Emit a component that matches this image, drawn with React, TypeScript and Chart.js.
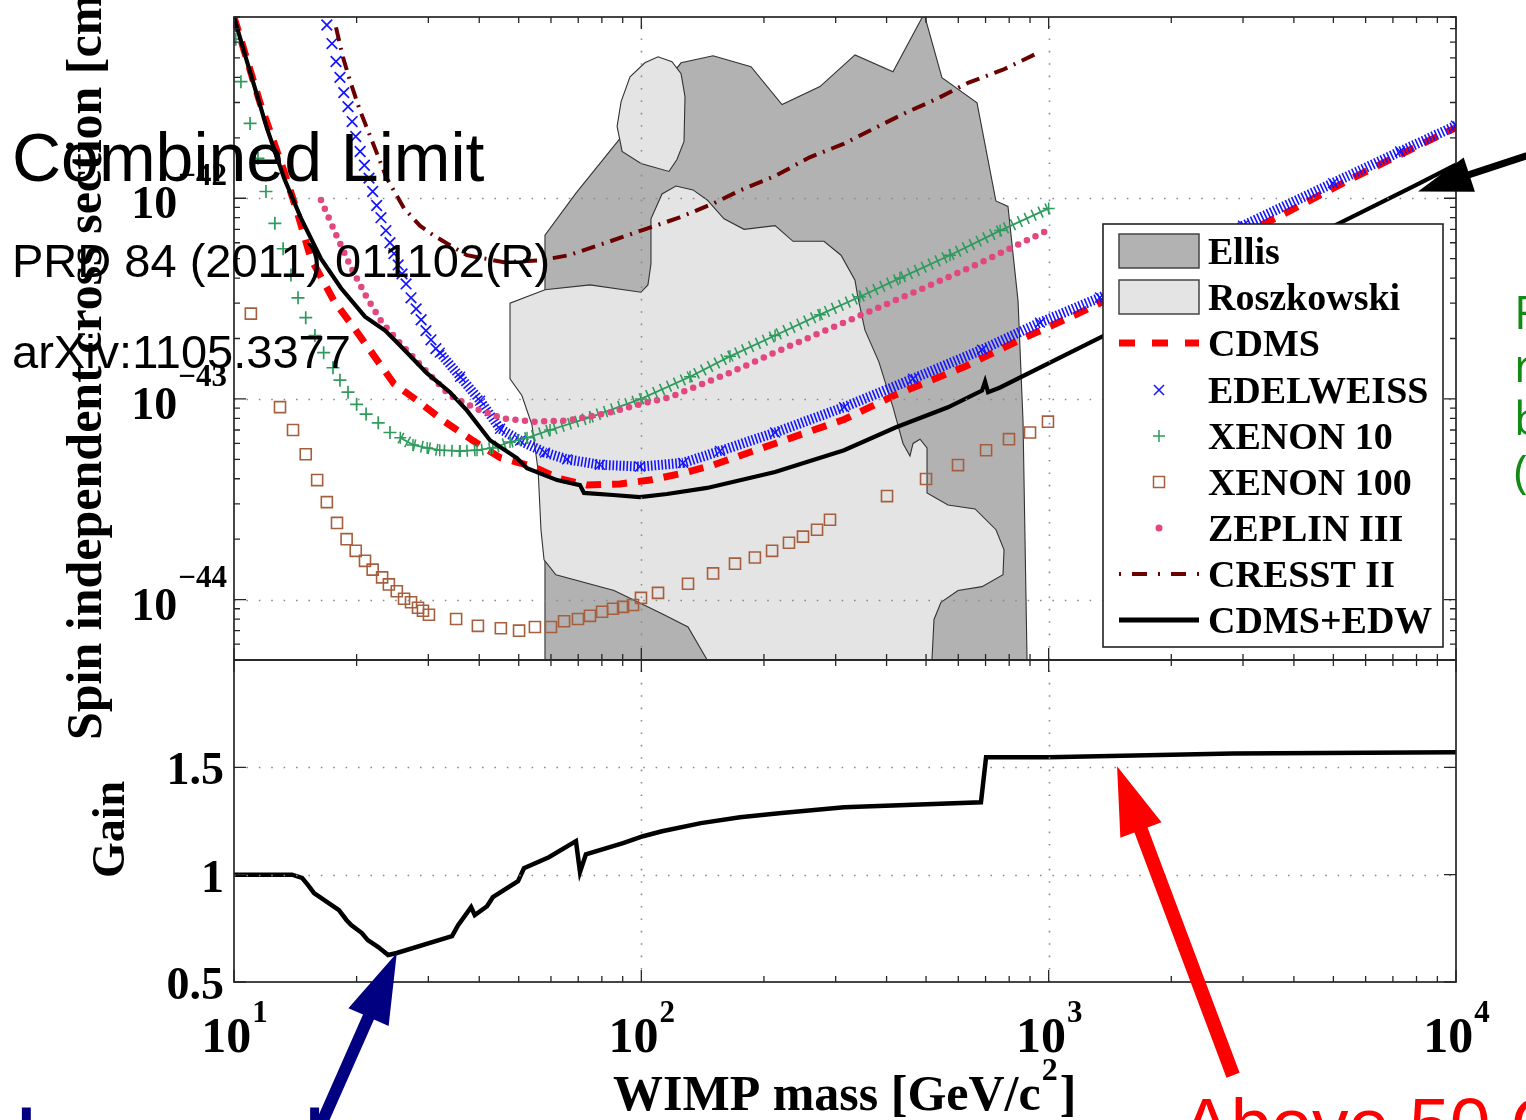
import React, { useEffect, useRef } from 'react';
import { Chart, registerables } from 'chart.js';

Chart.register(...registerables);

const W = 1526;
const H = 1120;
const SERIF = '"Liberation Serif","Times New Roman",serif';
const SANS = '"Liberation Sans",Arial,sans-serif';

// ---------------- data (x: WIMP mass GeV/c^2, y: cross section cm^2) ----------------
const ellisMass = [58.0, 58.0, 69.1, 86.2, 125.2, 150, 185.9, 221.5, 274.5, 334.6, 414.8, 494.5, 547, 667, 742, 794.6, 841, 865, 885];
const ellisSigma = [5e-45, 6.55e-43, 1.06e-42, 1.85e-42, 4.73e-42, 5.13e-42, 4.52e-42, 2.93e-42, 3.6e-42, 5.18e-42, 4.27e-42, 8.3e-42, 3.99e-42, 2.99e-42, 9.7e-43, 9.1e-43, 3.08e-43, 7.8e-44, 5e-45];

const roszMass = [145.1, 130.2, 112.4, 85.7, 61.7, 57.7, 56.7, 55.8, 53.9, 50.9, 47.6, 47.6, 58.0, 74.8, 99.8, 103.8, 105.6, 105.6, 112.4, 121.6, 133.9, 145.1, 159.6, 178.7, 213, 235.7, 280.8, 309.2, 334.6, 340.3, 354, 383, 414.8, 438.9, 456.6, 464.5, 483.3, 502.8, 502.8, 566, 659.6, 742.5, 777, 772.5, 686, 599, 544, 523, 517];
const roszSigma = [5e-45, 7.3e-45, 8.5e-45, 1.11e-44, 1.33e-44, 1.58e-44, 2.23e-44, 4.4e-44, 7.4e-44, 1.04e-43, 1.26e-43, 3.0e-43, 3.5e-43, 3.7e-43, 3.4e-43, 3.7e-43, 4.7e-43, 7.9e-43, 1.05e-42, 1.15e-42, 1.10e-42, 9.8e-43, 7.9e-43, 7.0e-43, 7.3e-43, 6.1e-43, 6.1e-43, 5.2e-43, 3.9e-43, 3.2e-43, 2.2e-43, 1.53e-43, 9.1e-44, 6.0e-44, 5.2e-44, 6.0e-44, 6.3e-44, 5.7e-44, 3.4e-44, 2.96e-44, 2.83e-44, 2.23e-44, 1.77e-44, 1.33e-44, 1.16e-44, 1.11e-44, 9.7e-45, 7.96e-45, 5e-45];

const roszIslandMass = [87.2, 89.2, 93.8, 102, 109.9, 118.9, 125.2, 128, 127.3, 122.3, 116.9, 99.8, 89.7];
const roszIslandSigma = [2.28e-42, 3.03e-42, 4.03e-42, 4.73e-42, 5.07e-42, 4.79e-42, 4.17e-42, 3.21e-42, 1.92e-42, 1.56e-42, 1.36e-42, 1.49e-42, 1.71e-42];

const cdmsMass = [10, 11.58, 13.27, 14.28, 15.45, 17.6, 19.93, 24.7, 28.6, 32.6, 38.6, 45.0, 54.2, 63.1, 73.6, 88.6, 105, 126.6, 150, 213, 314.6, 422, 623, 850, 1180, 3760, 5495, 7290, 10000];
const cdmsSigma = [8e-42, 3.0e-42, 1.36e-42, 8.6e-43, 5.0e-43, 3.08e-43, 2.19e-43, 1.19e-43, 9.6e-44, 7.8e-44, 6.2e-44, 5.1e-44, 4.6e-44, 4.0e-44, 3.72e-44, 3.77e-44, 3.94e-44, 4.27e-44, 4.68e-44, 6.0e-44, 7.9e-44, 1.05e-43, 1.45e-43, 1.97e-43, 2.66e-43, 8.3e-43, 1.24e-42, 1.65e-42, 2.25e-42];

const edwSparseMass = [16.9, 17.4, 17.8, 18.2, 18.6, 19.05, 19.5, 19.9, 20.4, 20.9, 21.45, 21.9, 22.4, 22.95, 23.6, 24.15, 24.7, 25.3, 25.85, 26.45, 27.2, 28.0, 28.8, 29.6, 30.45, 31.3];
const edwSparseSigma = [7.3e-42, 5.9e-42, 4.8e-42, 4.0e-42, 3.36e-42, 2.86e-42, 2.41e-42, 2.03e-42, 1.71e-42, 1.46e-42, 1.26e-42, 1.08e-42, 9.2e-43, 8.0e-43, 6.9e-43, 6.0e-43, 5.3e-43, 4.65e-43, 4.2e-43, 3.74e-43, 3.19e-43, 2.81e-43, 2.48e-43, 2.19e-43, 1.97e-43, 1.78e-43];
const edwDenseMass = [32.0, 35.9, 40.2, 45.0, 50.4, 58.0, 65.7, 79.1, 99.2, 126.6, 156, 213, 314.6, 464.5, 686, 952, 1337, 1986, 3000, 4990, 7290, 10000];
const edwDenseSigma = [1.70e-43, 1.29e-43, 9.8e-44, 7.1e-44, 6.2e-44, 5.4e-44, 5.0e-44, 4.7e-44, 4.6e-44, 4.8e-44, 5.5e-44, 6.8e-44, 9.1e-44, 1.26e-43, 1.76e-43, 2.4e-43, 3.2e-43, 4.8e-43, 7.3e-43, 1.19e-42, 1.71e-42, 2.30e-42];

const xenon10SparseMass = [10.1, 10.4, 10.95, 11.45, 11.98, 12.6, 13.2, 13.8, 14.36, 15.0, 15.8, 16.6, 17.5, 18.2, 19.05, 20.0, 21.1, 22.6, 24.15];
const xenon10SparseSigma = [6.2e-42, 3.81e-42, 2.36e-42, 1.58e-42, 1.08e-42, 7.5e-43, 5.6e-43, 4.15e-43, 3.19e-43, 2.54e-43, 2.07e-43, 1.70e-43, 1.43e-43, 1.24e-43, 1.08e-43, 9.4e-44, 8.4e-44, 7.6e-44, 6.8e-44];
const xenon10DenseMass = [25.6, 27.5, 29.8, 32.0, 35.9, 39.5, 43.2, 47.6, 52.4, 59.7, 74.8, 99.8, 131.7, 165, 213, 274.5, 344, 431.5, 572.5, 760, 1000];
const xenon10DenseSigma = [6.4e-44, 5.9e-44, 5.7e-44, 5.55e-44, 5.5e-44, 5.55e-44, 5.7e-44, 6.1e-44, 6.4e-44, 7.0e-44, 8.1e-44, 1.0e-43, 1.29e-43, 1.63e-43, 2.07e-43, 2.63e-43, 3.23e-43, 4.0e-43, 5.2e-43, 6.9e-43, 8.9e-43];

const xenon100Mass = [11.0, 12.97, 13.96, 15.0, 16.0, 16.9, 17.9, 18.9, 19.9, 20.97, 21.9, 23.1, 24.0, 25.1, 26.15, 27.2, 28.3, 29.1, 30.1, 35.1, 39.7, 45.2, 50.1, 54.8, 60.0, 64.6, 69.9, 74.8, 80.1, 85.2, 90.2, 95.4, 99.8, 109.9, 130.2, 150, 169.8, 190, 209.4, 230.4, 249.4, 270, 290.5, 401, 500, 599, 702, 799, 900, 996];
const xenon100Sigma = [2.66e-43, 9.1e-44, 7.0e-44, 5.3e-44, 3.94e-44, 3.06e-44, 2.41e-44, 2.0e-44, 1.75e-44, 1.56e-44, 1.41e-44, 1.29e-44, 1.19e-44, 1.10e-44, 1.01e-44, 9.7e-45, 9.1e-45, 8.8e-45, 8.4e-45, 8.0e-45, 7.4e-45, 7.2e-45, 7.0e-45, 7.3e-45, 7.3e-45, 7.8e-45, 8.0e-45, 8.3e-45, 8.7e-45, 9.0e-45, 9.2e-45, 9.4e-45, 1.02e-44, 1.08e-44, 1.20e-44, 1.35e-44, 1.51e-44, 1.62e-44, 1.75e-44, 1.92e-44, 2.06e-44, 2.23e-44, 2.5e-44, 3.28e-44, 3.99e-44, 4.68e-44, 5.55e-44, 6.3e-44, 6.8e-44, 7.7e-44];

const zeplinMass = [16.35, 17.8, 19.4, 21.2, 23.1, 25.6, 29.1, 33.9, 39.5, 45.7, 54.2, 65.7, 82.4, 103.3, 117.6, 165, 231.7, 344, 483, 678.5, 991];
const zeplinSigma = [9.8e-43, 6.6e-43, 4.5e-43, 3.19e-43, 2.4e-43, 1.89e-43, 1.43e-43, 1.04e-43, 8.9e-44, 8.0e-44, 7.7e-44, 7.8e-44, 8.5e-44, 9.6e-44, 1.02e-43, 1.35e-43, 1.84e-43, 2.6e-43, 3.5e-43, 4.76e-43, 6.9e-43];

const cresstMass = [17.8, 18.5, 19.2, 20.3, 21.8, 23.7, 26.15, 28.6, 31.0, 37.3, 46.0, 56.4, 66.4, 83.8, 102, 123.7, 150, 175.7, 213, 259, 314.6, 368.4, 446.4, 531.8, 634, 772.5, 952];
const cresstSigma = [7.1e-42, 5.07e-42, 3.94e-42, 2.8e-42, 1.94e-42, 1.26e-42, 8.9e-43, 7.3e-43, 6.5e-43, 5.2e-43, 4.8e-43, 4.9e-43, 5.2e-43, 6.1e-43, 7.0e-43, 8.0e-43, 9.4e-43, 1.10e-42, 1.29e-42, 1.60e-42, 1.87e-42, 2.2e-42, 2.67e-42, 3.13e-42, 3.76e-42, 4.37e-42, 5.36e-42];

const combMass = [10, 10.76, 12.05, 13.27, 14.6, 16.35, 18.3, 20.97, 23.5, 25.6, 29.8, 33.9, 37.3, 42.5, 49.5, 52.4, 62.1, 70.7, 72.3, 85.2, 99.2, 115.6, 145, 213, 314.6, 422, 566, 686, 698, 710, 760, 1337, 5105, 8017, 10000];
const combSigma = [8e-42, 4.8e-42, 2.23e-42, 1.26e-42, 7.96e-43, 5.0e-43, 3.57e-43, 2.57e-43, 2.19e-43, 1.84e-43, 1.34e-43, 1.08e-43, 8.77e-44, 6.22e-44, 5.07e-44, 4.52e-44, 3.94e-44, 3.72e-44, 3.40e-44, 3.32e-44, 3.24e-44, 3.36e-44, 3.60e-44, 4.32e-44, 5.55e-44, 7.22e-44, 9.08e-44, 1.10e-43, 1.22e-43, 1.08e-43, 1.14e-43, 2.02e-43, 7.4e-43, 1.17e-42, 1.47e-42];

const gainMass = [10, 13.88, 14.69, 15.2, 15.72, 18.1, 18.9, 19.4, 20.6, 21.3, 22.6, 23.9, 25.1, 34.3, 35.5, 38.2, 39.0, 41.8, 43.2, 49.8, 51.5, 59.3, 69.1, 70.7, 73.1, 90.2, 101, 112.4, 140.1, 174.7, 217.8, 314.6, 682, 702, 1000, 2836, 10000];
const gainValue = [1.0, 1.0, 0.985, 0.951, 0.914, 0.835, 0.788, 0.765, 0.728, 0.695, 0.663, 0.626, 0.635, 0.714, 0.765, 0.849, 0.812, 0.853, 0.895, 0.970, 1.030, 1.081, 1.156, 1.012, 1.095, 1.147, 1.179, 1.202, 1.240, 1.267, 1.286, 1.314, 1.337, 1.547, 1.547, 1.565, 1.570];

// ticks / labels
const xTickValues = [10, 100, 1000, 10000];
const xTickExponents = ['1', '2', '3', '4'];
const sigmaTickValues = [1e-42, 1e-43, 1e-44];
const sigmaTickExponents = ['\u221242', '\u221243', '\u221244'];
const gainTickValues = [0.5, 1, 1.5];
const gainTickLabels = ['0.5', '1', '1.5'];
const legendLabels = ['Ellis', 'Roszkowski', 'CDMS', 'EDELWEISS', 'XENON 10', 'XENON 100', 'ZEPLIN III', 'CRESST II', 'CDMS+EDW'];

const X_MIN = 10, X_MAX = 10000;
const SIG_MIN = 5e-45, SIG_MAX = 8e-42;
const GAIN_MIN = 0.5, GAIN_MAX = 2.0;

// colours
const C_ELLIS = '#b2b2b2';
const C_ROSZ = '#e4e4e4';
const C_CDMS = '#ff0000';
const C_EDW = '#1414ff';
const C_X10 = '#2e9b5c';
const C_X100 = '#a65f3e';
const C_ZEP = '#e2477f';
const C_CRESST = '#6a0000';
const C_COMB = '#000000';

function zip(xs: number[], ys: number[]) {
  return xs.map((x, i) => ({ x, y: ys[i] }));
}

function logTicks(min: number, max: number) {
  const out: { v: number; major: boolean }[] = [];
  for (let e = Math.floor(Math.log10(min)); e <= Math.ceil(Math.log10(max)); e++) {
    for (let k = 1; k <= 9; k++) {
      const v = k * Math.pow(10, e);
      if (v >= min * 0.9999 && v <= max * 1.0001) out.push({ v, major: k === 1 });
    }
  }
  return out;
}

function drawGrid(chart: any, xVals: number[], yVals: number[]) {
  const { ctx, chartArea: a, scales } = chart;
  ctx.save();
  ctx.strokeStyle = '#8a8a8a';
  ctx.lineWidth = 1.6;
  ctx.setLineDash([1.6, 10.8]);
  for (const v of xVals) {
    const x = Math.round(scales.x.getPixelForValue(v)) + 0.5;
    ctx.beginPath();
    ctx.moveTo(x, a.bottom);
    ctx.lineTo(x, a.top);
    ctx.stroke();
  }
  for (const v of yVals) {
    const y = Math.round(scales.y.getPixelForValue(v)) + 0.5;
    ctx.beginPath();
    ctx.moveTo(a.left, y);
    ctx.lineTo(a.right, y);
    ctx.stroke();
  }
  ctx.restore();
}

function drawFrame(chart: any, xTicks: { v: number; major: boolean }[], yTicks: { v: number; major: boolean }[]) {
  const { ctx, chartArea: a, scales } = chart;
  ctx.save();
  ctx.strokeStyle = '#262626';
  ctx.lineWidth = 1.3;
  ctx.beginPath();
  for (const t of xTicks) {
    const x = scales.x.getPixelForValue(t.v);
    const L = t.major ? 12 : 6;
    ctx.moveTo(x, a.bottom);
    ctx.lineTo(x, a.bottom - L);
    ctx.moveTo(x, a.top);
    ctx.lineTo(x, a.top + L);
  }
  for (const t of yTicks) {
    const y = scales.y.getPixelForValue(t.v);
    const L = t.major ? 12 : 6;
    ctx.moveTo(a.left, y);
    ctx.lineTo(a.left + L, y);
    ctx.moveTo(a.right, y);
    ctx.lineTo(a.right - L, y);
  }
  ctx.stroke();
  ctx.lineWidth = 1.7;
  ctx.strokeRect(a.left, a.top, a.right - a.left, a.bottom - a.top);
  ctx.restore();
}

function drawMarker(ctx: CanvasRenderingContext2D, kind: string, x: number, y: number, color: string) {
  ctx.save();
  ctx.strokeStyle = color;
  ctx.fillStyle = color;
  ctx.lineWidth = 1.5;
  ctx.beginPath();
  if (kind === 'x') {
    ctx.moveTo(x - 5, y - 5); ctx.lineTo(x + 5, y + 5);
    ctx.moveTo(x + 5, y - 5); ctx.lineTo(x - 5, y + 5);
    ctx.stroke();
  } else if (kind === '+') {
    ctx.moveTo(x - 6, y); ctx.lineTo(x + 6, y);
    ctx.moveTo(x, y - 6); ctx.lineTo(x, y + 6);
    ctx.stroke();
  } else if (kind === 's') {
    ctx.rect(x - 5.5, y - 5.5, 11, 11);
    ctx.stroke();
  } else if (kind === 'o') {
    ctx.arc(x, y, 3.5, 0, Math.PI * 2);
    ctx.fill();
  }
  ctx.restore();
}

function drawLegend(ctx: CanvasRenderingContext2D) {
  const bx = 1103, by = 224, bw = 340, bh = 423;
  ctx.save();
  ctx.fillStyle = '#ffffff';
  ctx.fillRect(bx, by, bw, bh);
  ctx.strokeStyle = '#222';
  ctx.lineWidth = 1.6;
  ctx.strokeRect(bx, by, bw, bh);
  const rows = [251, 297, 343, 390, 436, 482, 528, 574, 620];
  const x0 = 1119, x1 = 1199, xm = 1159;
  ctx.lineWidth = 1.5;
  ctx.strokeStyle = '#444';
  ctx.fillStyle = C_ELLIS;
  ctx.fillRect(x0, rows[0] - 17, x1 - x0, 34);
  ctx.strokeRect(x0, rows[0] - 17, x1 - x0, 34);
  ctx.fillStyle = C_ROSZ;
  ctx.fillRect(x0, rows[1] - 17, x1 - x0, 34);
  ctx.strokeRect(x0, rows[1] - 17, x1 - x0, 34);
  ctx.strokeStyle = C_CDMS;
  ctx.lineWidth = 7;
  ctx.setLineDash([16, 17]);
  ctx.beginPath(); ctx.moveTo(x0, rows[2]); ctx.lineTo(x1, rows[2]); ctx.stroke();
  ctx.setLineDash([]);
  drawMarker(ctx, 'x', xm, rows[3], C_EDW);
  drawMarker(ctx, '+', xm, rows[4], C_X10);
  drawMarker(ctx, 's', xm, rows[5], C_X100);
  drawMarker(ctx, 'o', xm, rows[6], C_ZEP);
  ctx.strokeStyle = C_CRESST;
  ctx.lineWidth = 3.8;
  ctx.setLineDash([2, 11, 15, 11]);
  ctx.beginPath(); ctx.moveTo(x0, rows[7]); ctx.lineTo(x1, rows[7]); ctx.stroke();
  ctx.setLineDash([]);
  ctx.strokeStyle = C_COMB;
  ctx.lineWidth = 5;
  ctx.beginPath(); ctx.moveTo(x0, rows[8]); ctx.lineTo(x1, rows[8]); ctx.stroke();
  ctx.fillStyle = '#000';
  ctx.font = `bold 38px ${SERIF}`;
  ctx.textAlign = 'left';
  ctx.textBaseline = 'alphabetic';
  legendLabels.forEach((t, i) => ctx.fillText(t, 1208, rows[i] + 13));
  ctx.restore();
}

function drawArrow(ctx: CanvasRenderingContext2D, tx: number, ty: number, fx: number, fy: number, shaftW: number, headLen: number, headHalf: number, color: string) {
  const dx = tx - fx, dy = ty - fy;
  const L = Math.hypot(dx, dy);
  const ux = dx / L, uy = dy / L;
  const nx = -uy, ny = ux;
  const bx = tx - ux * headLen, by = ty - uy * headLen;
  ctx.save();
  ctx.fillStyle = color;
  ctx.beginPath();
  ctx.moveTo(fx + nx * shaftW / 2, fy + ny * shaftW / 2);
  ctx.lineTo(bx + nx * shaftW / 2, by + ny * shaftW / 2);
  ctx.lineTo(bx + nx * headHalf, by + ny * headHalf);
  ctx.lineTo(tx, ty);
  ctx.lineTo(bx - nx * headHalf, by - ny * headHalf);
  ctx.lineTo(bx - nx * shaftW / 2, by - ny * shaftW / 2);
  ctx.lineTo(fx - nx * shaftW / 2, fy - ny * shaftW / 2);
  ctx.closePath();
  ctx.fill();
  ctx.restore();
}

const xTickSet = logTicks(X_MIN, X_MAX);
const sigmaTickSet = logTicks(SIG_MIN, SIG_MAX);
const gainTickSet = gainTickValues.map((v) => ({ v, major: true }));

const topPlugin = {
  id: 'topDecor',
  beforeDatasetDraw(chart: any, args: any) {
    const ds = chart.data.datasets[args.index];
    if (!ds.polyFill) return;
    const pts = args.meta.data;
    const { ctx, chartArea: a } = chart;
    ctx.save();
    ctx.beginPath();
    ctx.rect(a.left, a.top, a.right - a.left, a.bottom - a.top);
    ctx.clip();
    ctx.beginPath();
    pts.forEach((p: any, i: number) => (i ? ctx.lineTo(p.x, p.y) : ctx.moveTo(p.x, p.y)));
    ctx.closePath();
    ctx.fillStyle = ds.polyFill;
    ctx.fill();
    ctx.strokeStyle = '#333';
    ctx.lineWidth = 1.1;
    ctx.stroke();
    ctx.restore();
  },
  afterDatasetsDraw(chart: any) {
    const { ctx, scales } = chart;
    drawGrid(chart, [100, 1000], sigmaTickValues);
    drawFrame(chart, xTickSet, sigmaTickSet);
    ctx.save();
    ctx.fillStyle = '#000';
    ctx.textBaseline = 'alphabetic';
    sigmaTickValues.forEach((v, i) => {
      const y = scales.y.getPixelForValue(v);
      const right = 227;
      ctx.font = `bold 31px ${SERIF}`;
      const supW = ctx.measureText(sigmaTickExponents[i]).width;
      ctx.textAlign = 'left';
      ctx.fillText(sigmaTickExponents[i], right - supW, y - 13);
      ctx.font = `bold 46px ${SERIF}`;
      ctx.textAlign = 'right';
      ctx.fillText('10', right - supW - 1, y + 20);
    });
    ctx.translate(101, 740);
    ctx.rotate(-Math.PI / 2);
    ctx.textAlign = 'left';
    ctx.font = `bold 50px ${SERIF}`;
    const main = 'Spin independent cross section [cm';
    ctx.fillText(main, 0, 0);
    const mw = ctx.measureText(main).width;
    ctx.font = `bold 32px ${SERIF}`;
    ctx.fillText('2', mw + 1, -22);
    const sw = ctx.measureText('2').width;
    ctx.font = `bold 50px ${SERIF}`;
    ctx.fillText(']', mw + sw + 2, 0);
    ctx.restore();
    drawLegend(ctx);
  },
};

const botPlugin = {
  id: 'botDecor',
  afterDatasetsDraw(chart: any) {
    const { ctx, scales } = chart;
    drawGrid(chart, [100, 1000], [1, 1.5]);
    drawFrame(chart, xTickSet, gainTickSet);
    ctx.save();
    ctx.fillStyle = '#000';
    ctx.textBaseline = 'alphabetic';
    ctx.font = `bold 46px ${SERIF}`;
    ctx.textAlign = 'right';
    gainTickValues.forEach((v, i) => {
      const y = scales.y.getPixelForValue(v);
      ctx.fillText(gainTickLabels[i], 224, y + 17);
    });
    xTickValues.forEach((v, i) => {
      const x = scales.x.getPixelForValue(v);
      ctx.font = `bold 50px ${SERIF}`;
      const w10 = ctx.measureText('10').width;
      ctx.font = `bold 31px ${SERIF}`;
      const ws = ctx.measureText(xTickExponents[i]).width;
      const start = x - (w10 + ws) / 2;
      ctx.textAlign = 'left';
      ctx.font = `bold 50px ${SERIF}`;
      ctx.fillText('10', start, 1052);
      ctx.font = `bold 31px ${SERIF}`;
      ctx.fillText(xTickExponents[i], start + w10 + 1, 1022);
    });
    ctx.textAlign = 'left';
    ctx.font = `bold 50px ${SERIF}`;
    const xt = 'WIMP mass [GeV/c';
    ctx.fillText(xt, 613, 1110);
    const xw = ctx.measureText(xt).width;
    ctx.font = `bold 32px ${SERIF}`;
    ctx.fillText('2', 613 + xw + 1, 1080);
    const s2 = ctx.measureText('2').width;
    ctx.font = `bold 50px ${SERIF}`;
    ctx.fillText(']', 613 + xw + s2 + 3, 1110);
    ctx.save();
    ctx.translate(124, 878);
    ctx.rotate(-Math.PI / 2);
    ctx.font = `bold 46px ${SERIF}`;
    ctx.fillText('Gain', 0, 0);
    ctx.restore();

    // ---- slide annotations ----
    ctx.fillStyle = '#000';
    ctx.font = `68px ${SANS}`;
    ctx.fillText('Combined Limit', 12, 181);
    ctx.font = `47px ${SANS}`;
    ctx.fillText('PRD 84 (2011) 011102(R)', 12, 277);
    ctx.fillText('arXiv:1105.3377', 12, 368);
    ctx.fillStyle = '#138a13';
    ctx.font = `46px "Open Sans", ${SANS}`;
    ['F', 'r', 'b', '('].forEach((t, i) => ctx.fillText(t, 1514, 329 + i * 53));
    ctx.fillStyle = '#000080';
    ctx.font = `96px ${SANS}`;
    ctx.fillText('Lower L', 14, 1174);
    ctx.fillStyle = '#ff0000';
    ctx.font = `73px ${SANS}`;
    ctx.fillText('Above 50 GeV', 1182, 1149);

    const blueTipX = scales.x.getPixelForValue(25.1);
    const blueTipY = scales.y.getPixelForValue(0.635);
    drawArrow(ctx, blueTipX, blueTipY, blueTipX - 76, blueTipY + 172, 12, 70, 22, '#000080');
    const redTipX = scales.x.getPixelForValue(1472);
    const redTipY = scales.y.getPixelForValue(1.505);
    drawArrow(ctx, redTipX, redTipY, redTipX + 116, redTipY + 309, 14, 68, 22, '#ff0000');
    ctx.restore();
  },
};

const blackArrowPlugin = {
  id: 'blackArrow',
  afterDraw(chart: any) {
    const { ctx, scales } = chart;
    const tx = scales.x.getPixelForValue(8067);
    const ty = scales.y.getPixelForValue(1.08e-42);
    drawArrow(ctx, tx, ty, tx + 152, ty - 50, 7, 54, 18, '#000');
  },
};

function polyDataset(label: string, xs: number[], ys: number[], color: string, order: number) {
  return {
    label,
    data: zip(xs, ys),
    showLine: false,
    pointRadius: 0,
    polyFill: color,
    order,
    clip: 0,
  };
}

const baseOptions = (padding: any, yScale: any) => ({
  responsive: false,
  maintainAspectRatio: false,
  animation: false,
  devicePixelRatio: 1,
  events: [],
  layout: { padding },
  plugins: { legend: { display: false }, tooltip: { enabled: false }, title: { display: false } },
  scales: {
    x: { type: 'logarithmic', min: X_MIN, max: X_MAX, display: false },
    y: yScale,
  },
  elements: { line: { tension: 0 } },
});

export default function App() {
  const topRef = useRef<HTMLCanvasElement>(null);
  const botRef = useRef<HTMLCanvasElement>(null);

  useEffect(() => {
    const top = new Chart(topRef.current as HTMLCanvasElement, {
      type: 'scatter',
      data: {
        datasets: [
          polyDataset('Ellis', ellisMass, ellisSigma, C_ELLIS, 100),
          polyDataset('Roszkowski', roszMass, roszSigma, C_ROSZ, 99),
          polyDataset('Roszkowski island', roszIslandMass, roszIslandSigma, C_ROSZ, 98),
          {
            label: 'CDMS', data: zip(cdmsMass, cdmsSigma), showLine: true, borderColor: C_CDMS,
            borderWidth: 7, borderDash: [15, 11], pointRadius: 0, order: 9, clip: 0,
          },
          {
            label: 'EDELWEISS', data: zip(edwSparseMass, edwSparseSigma), showLine: false,
            pointStyle: 'crossRot', pointRadius: 7.5, pointBorderWidth: 1.7, pointBorderColor: C_EDW,
            pointBackgroundColor: C_EDW, order: 8, clip: 0,
          },
          {
            label: 'EDELWEISS band', data: zip(edwDenseMass, edwDenseSigma), showLine: true,
            borderColor: C_EDW, borderWidth: 10, borderDash: [1.6, 1.9],
            pointStyle: 'crossRot', pointRadius: 7, pointBorderWidth: 1.4, pointBorderColor: C_EDW,
            pointBackgroundColor: C_EDW, order: 8, clip: 0,
          },
          {
            label: 'XENON 10', data: zip(xenon10SparseMass, xenon10SparseSigma), showLine: false,
            pointStyle: 'cross', pointRadius: 6.5, pointBorderWidth: 1.7, pointBorderColor: C_X10,
            pointBackgroundColor: C_X10, order: 7, clip: 0,
          },
          {
            label: 'XENON 10 line', data: zip(xenon10DenseMass, xenon10DenseSigma), showLine: true,
            borderColor: C_X10, borderWidth: 1.8, pointRadius: 0, order: 7, clip: 0,
          },
          {
            label: 'XENON 10 band', data: zip(xenon10DenseMass, xenon10DenseSigma), showLine: true,
            borderColor: C_X10, borderWidth: 12, borderDash: [1.6, 6],
            pointStyle: 'cross', pointRadius: 6, pointBorderWidth: 1.5, pointBorderColor: C_X10,
            pointBackgroundColor: C_X10, order: 7, clip: 0,
          },
          {
            label: 'XENON 100', data: zip(xenon100Mass, xenon100Sigma), showLine: false,
            pointStyle: 'rect', pointRadius: 7.8, pointBorderWidth: 1.6, pointBorderColor: C_X100,
            pointBackgroundColor: 'rgba(0,0,0,0)', order: 6, clip: 0,
          },
          {
            label: 'ZEPLIN III', data: zip(zeplinMass, zeplinSigma), showLine: true,
            borderColor: C_ZEP, borderWidth: 6.5, borderDash: [0, 9.6], borderCapStyle: 'round',
            pointRadius: 0, order: 5, clip: 0,
          },
          {
            label: 'CRESST II', data: zip(cresstMass, cresstSigma), showLine: true,
            borderColor: C_CRESST, borderWidth: 4, borderDash: [14, 7, 2, 7],
            pointRadius: 0, order: 4, clip: 0,
          },
          {
            label: 'CDMS+EDW', data: zip(combMass, combSigma), showLine: true,
            borderColor: C_COMB, borderWidth: 4.2, pointRadius: 0, order: 3, clip: 0,
          },
        ] as any,
      },
      options: baseOptions(
        { left: 234, top: 17, right: W - 1456, bottom: H - 660 },
        { type: 'logarithmic', min: SIG_MIN, max: SIG_MAX, display: false },
      ) as any,
      plugins: [topPlugin, blackArrowPlugin],
    });

    const bot = new Chart(botRef.current as HTMLCanvasElement, {
      type: 'scatter',
      data: {
        datasets: [
          {
            label: 'Gain', data: zip(gainMass, gainValue), showLine: true,
            borderColor: '#000', borderWidth: 4.5, pointRadius: 0, clip: 0,
          },
        ] as any,
      },
      options: baseOptions(
        { left: 234, top: 660, right: W - 1456, bottom: H - 982 },
        { type: 'linear', min: GAIN_MIN, max: GAIN_MAX, display: false },
      ) as any,
      plugins: [botPlugin],
    });

    return () => {
      top.destroy();
      bot.destroy();
    };
  }, []);

  const cstyle: React.CSSProperties = { position: 'absolute', left: 0, top: 0, width: W, height: H };
  return (
    <div style={{ position: 'fixed', left: 0, top: 0, width: W, height: H, background: '#ffffff', overflow: 'hidden' }}>
      <canvas ref={topRef} width={W} height={H} style={cstyle} />
      <canvas ref={botRef} width={W} height={H} style={cstyle} />
    </div>
  );
}
